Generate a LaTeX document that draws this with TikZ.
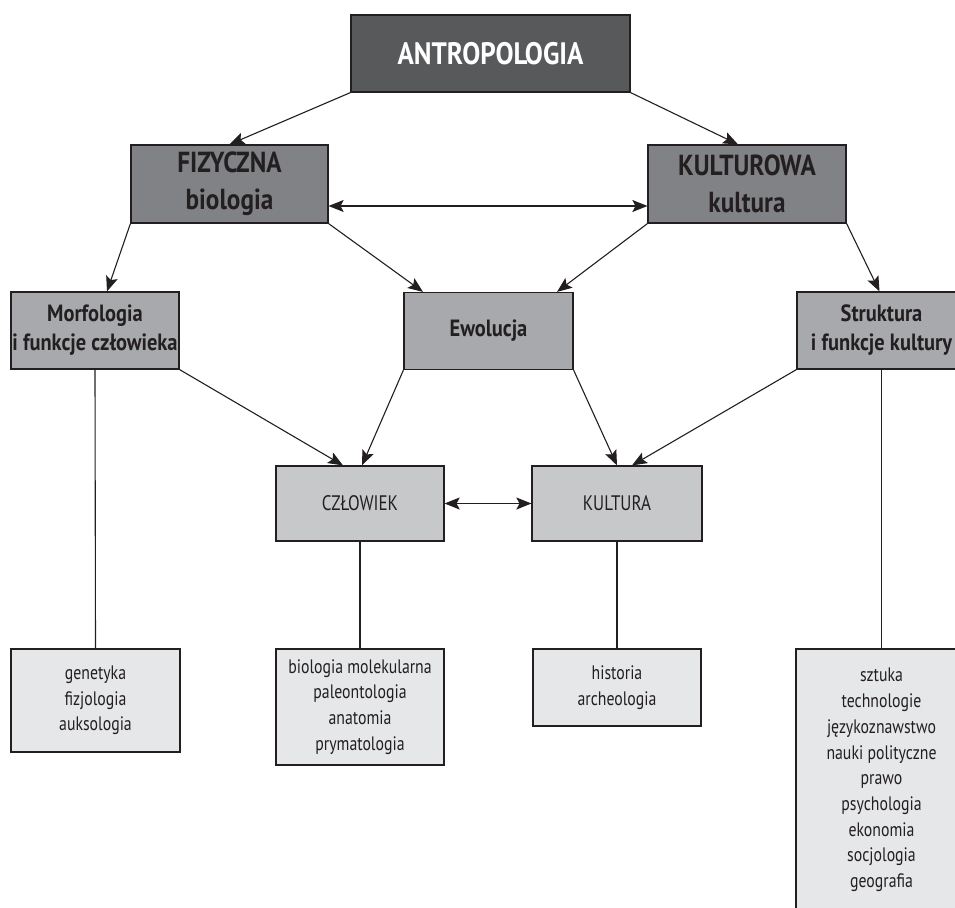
\documentclass[tikz,border=0pt]{standalone}
\usepackage{fontspec}
\setmainfont{PT Sans}[FakeStretch=0.81]
\newfontfamily\headfont{PT Sans}[FakeStretch=0.87]
\usetikzlibrary{arrows.meta}
\definecolor{ink}{HTML}{231F20}
\definecolor{grayA}{HTML}{58595B}
\definecolor{grayB}{HTML}{808285}
\definecolor{grayC}{HTML}{A7A9AC}
\definecolor{grayD}{HTML}{C7C8CA}
\definecolor{grayE}{HTML}{E6E7E8}

\begin{document}
\begin{tikzpicture}[x=1pt,y=-1pt,
		box/.style={draw=ink,line width=1.2pt,align=center,inner sep=0pt,text=ink},
		topbox/.style={box,fill=grayA,text=white,font=\headfont\bfseries\fontsize{31}{37}\selectfont},
		fieldbox/.style={box,fill=grayB,font=\headfont\bfseries\fontsize{29}{37}\selectfont},
		subbox/.style={box,fill=grayC,font=\headfont\bfseries\fontsize{23.5}{29}\selectfont},
		corebox/.style={box,fill=grayD,font=\fontsize{21}{25}\selectfont},
		listbox/.style={box,fill=grayE,font=\fontsize{19.5}{25.7}\selectfont},
		arr/.style={draw=ink,line width=1.1pt,-{Stealth[length=15pt,width=12pt,inset=3pt]}},
		darr/.style={arr,{Stealth[length=15pt,width=12pt,inset=3pt]}-{Stealth[length=15pt,width=12pt,inset=3pt]}},
		link/.style={draw=ink,line width=1.1pt}]
	%%%%% START %%%%%
	\useasboundingbox (0,0) rectangle (955,907);
	\clip (0,0) rectangle (955,907);
	
	\node[topbox,minimum width=279pt,minimum height=77pt] (antro) at (490.5,53.5) {ANTROPOLOGIA};
	
	\node[fieldbox,minimum width=197pt,minimum height=78pt] (fiz) at (229.5,184) {FIZYCZNA\\biologia};
	\node[fieldbox,minimum width=198pt,minimum height=78pt] (kult) at (747,184) {KULTUROWA\\kultura};
	
	\node[subbox,minimum width=168pt,minimum height=77pt] (morf) at (95,330.5) {Morfologia\\i funkcje człowieka};
	\node[subbox,minimum width=169pt,minimum height=77pt] (ewol) at (488.5,331) {Ewolucja};
	\node[subbox,minimum width=169pt,minimum height=77pt] (strukt) at (881.5,330.5) {Struktura\\i funkcje kultury};
	
	\node[corebox,minimum width=168pt,minimum height=75pt] (czl) at (360,503.5) {CZŁOWIEK};
	\node[corebox,minimum width=170pt,minimum height=75pt] (kultura) at (617,503.5) {KULTURA};
	
	\node[listbox,minimum width=169pt,minimum height=103pt] (gen) at (95.5,700.5) {genetyka\\fizjologia\\auksologia};
	\node[listbox,minimum width=168pt,minimum height=116pt] (bio) at (360,707) {biologia molekularna\\paleontologia\\anatomia\\prymatologia};
	\node[listbox,minimum width=168pt,minimum height=77pt] (hist) at (617,687.5) {historia\\archeologia};
	\node[listbox,minimum width=171pt,minimum height=262pt] (nauki) at (881.5,780) {sztuka\\technologie\\językoznawstwo\\nauki polityczne\\prawo\\psychologia\\ekonomia\\socjologia\\geografia};
	
	% arrows
	\draw[arr] (antro.south west) -- (fiz.north);
	\draw[arr] (antro.south east) -- ([xshift=-9pt]kult.north);
	\draw[darr] ([yshift=-22pt]fiz.east) -- ([yshift=-22pt]kult.west);
	\draw[arr] (fiz.south west) -- ([xshift=12pt]morf.north);
	\draw[arr] (fiz.south east) -- ([xshift=-65.5pt]ewol.north);
	\draw[arr] (kult.south west) -- ([xshift=68.5pt]ewol.north);
	\draw[arr] (kult.south east) -- ([xshift=-2pt]strukt.north);
	\draw[arr] (morf.south east) -- ([xshift=-17pt]czl.north);
	\draw[arr] (ewol.south west) -- ([xshift=2pt]czl.north);
	\draw[arr] (ewol.south east) -- (kultura.north);
	\draw[arr] (strukt.south west) -- ([xshift=15pt]kultura.north);
	\draw[darr] (czl.east) -- (kultura.west);
	
	% lines
	\draw[link] (morf.south) -- (gen.north);
	\draw[link] (czl.south) -- (bio.north);
	\draw[link] (kultura.south) -- (hist.north);
	\draw[link] (strukt.south) -- (nauki.north);
	%%%%% END %%%%%
\end{tikzpicture}
\end{document}
